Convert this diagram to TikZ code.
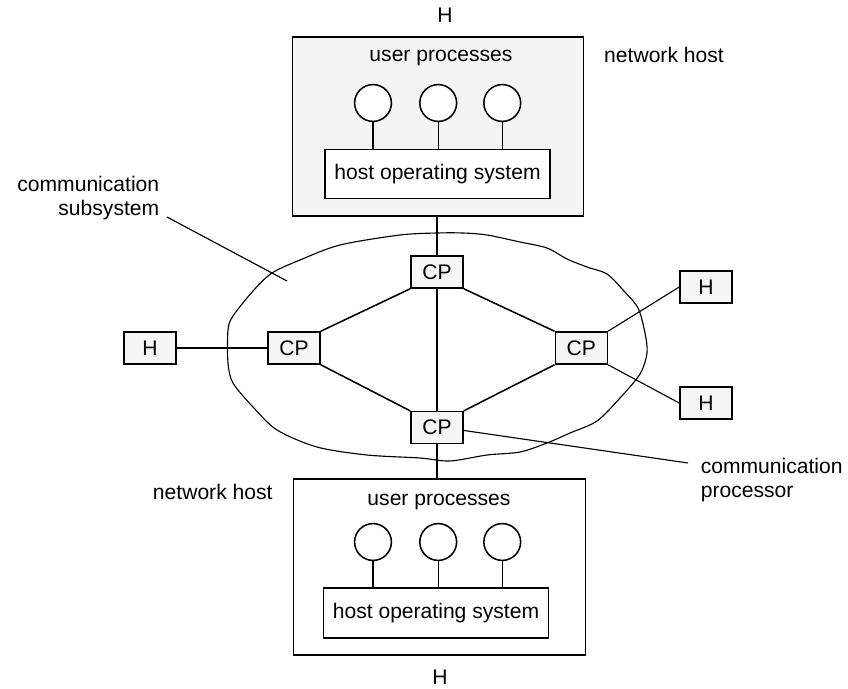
\documentclass[tikz,border=0pt]{standalone}
\usepackage{fontspec}
\setmainfont{Liberation Sans}
\usetikzlibrary{positioning}

\begin{document}
\begin{tikzpicture}[x=0.025cm, y=-0.025cm, line width=1.1pt,
    font=\fontsize{15}{16.5}\selectfont,
    cpbox/.style={draw, fill=gray!8, minimum width=1.3cm, minimum height=0.8cm, inner sep=0pt},
    hostbox/.style={draw, minimum width=7.28cm, inner sep=0pt},
    osbox/.style={draw, fill=white, minimum width=5.63cm, minimum height=1.22cm, inner sep=0pt},
    proc/.style={draw, fill=white, circle, minimum size=0.92cm, inner sep=0pt},
    note/.style={inner sep=0pt, align=left}]
  \useasboundingbox (0,0) rectangle (848,689);

  % subnet cloud
  \draw[line width=0.8pt] plot[smooth cycle] coordinates {
    (437,233) (463,233) (487,235) (520,242) (547,248) (567,259) (587,267)
    (607,274) (623,290) (638,308) (645,333) (647,353) (640,374) (620,398)
    (597,421) (570,433) (547,443) (520,452) (487,455) (450,461) (420,458)
    (367,455) (317,447) (277,430) (253,407) (233,383) (228,363) (228,330)
    (233,316) (253,291) (272,273) (300,260) (340,245) (400,235)};

  % host on top
  \node[hostbox, very thick, fill=gray!9, minimum height=4.48cm] (topHost) at (438,126.5) {};
  \node (topUser) at (441,58) {user processes};
  \node[osbox] (topOS) at (437.5,174) {host operating system};
  \node[proc] (tp1) at (373,103) {};
  \node[proc, right of=tp1, node distance=1.63cm] (tp2) {};
  \node[proc, right of=tp2, node distance=1.6cm] (tp3) {};
  \node (topH) at (445,15) {H};
  \node (topNote) at (664,55) {network host};

  % host at the bottom
  \node[hostbox, line width=0.8pt, minimum height=4.4cm] (botHost) at (439.5,567) {};
  \node (botUser) at (439,502) {user processes};
  \node[osbox, minimum height=1.25cm] (botOS) at (436,613) {host operating system};
  \node[proc] (bp1) at (373,542) {};
  \node[proc, right of=bp1, node distance=1.63cm] (bp2) {};
  \node[proc, right of=bp2, node distance=1.6cm] (bp3) {};
  \node (botH) at (440,677) {H};
  \node[anchor=east] (botNote) at (278,492) {network host};

  % communication processors
  \node[cpbox] (cpTop) at (437,272) {CP};
  \node[cpbox, below of=cpTop, node distance=3.89cm] (cpBot) {CP};
  \node[cpbox] (cpLeft) at (294,348) {CP};
  \node[cpbox, right of=cpLeft, node distance=7.18cm] (cpRight) {CP};
  \node[cpbox, left of=cpLeft, node distance=3.6cm] (hLeft) {H};
  \node[cpbox] (hUp) at (706,287) {H};
  \node[cpbox, below of=hUp, node distance=2.9cm] (hDown) {H};

  % labels
  \node[note, align=right, anchor=east] (subLbl) at (160,198) {communication\\subsystem};
  \node[note, anchor=west] (cpLbl) at (700,480) {communication\\processor};
  \coordinate (subTip) at (287,281);
  \coordinate (subTail) at (167,217);
  \coordinate (cpTail) at (688,463);

  % links
  \draw (cpTop.north |- topHost.south) -- (cpTop.north);
  \draw (cpTop) -- (cpBot);
  \draw (cpBot.south) -- (cpBot.south |- botHost.north);
  \draw (cpTop.south west) -- (cpLeft.north east);
  \draw (cpLeft.south east) -- (cpBot.north west);
  \draw (cpTop.south east) -- (cpRight.north west);
  \draw (cpRight.south west) -- (cpBot.north east);
  \draw (hLeft.east) -- (cpLeft.west);
  \draw[line width=0.8pt] (cpRight.north east) -- (hUp.west);
  \draw[line width=0.8pt] (cpRight.south east) -- (hDown.west);
  \foreach \p in {tp1,tp2,tp3} \draw[line width=0.8pt] (\p.south) -- (\p |- topOS.north);
  \foreach \p in {bp1,bp2,bp3} \draw[line width=0.8pt] (\p.south) -- (\p |- botOS.north);

  % pointers
  \draw[line width=0.8pt] (subTail) -- (subTip);
  \draw[line width=0.8pt] ([yshift=-2pt]cpBot.east) -- (cpTail);
\end{tikzpicture}
\end{document}
